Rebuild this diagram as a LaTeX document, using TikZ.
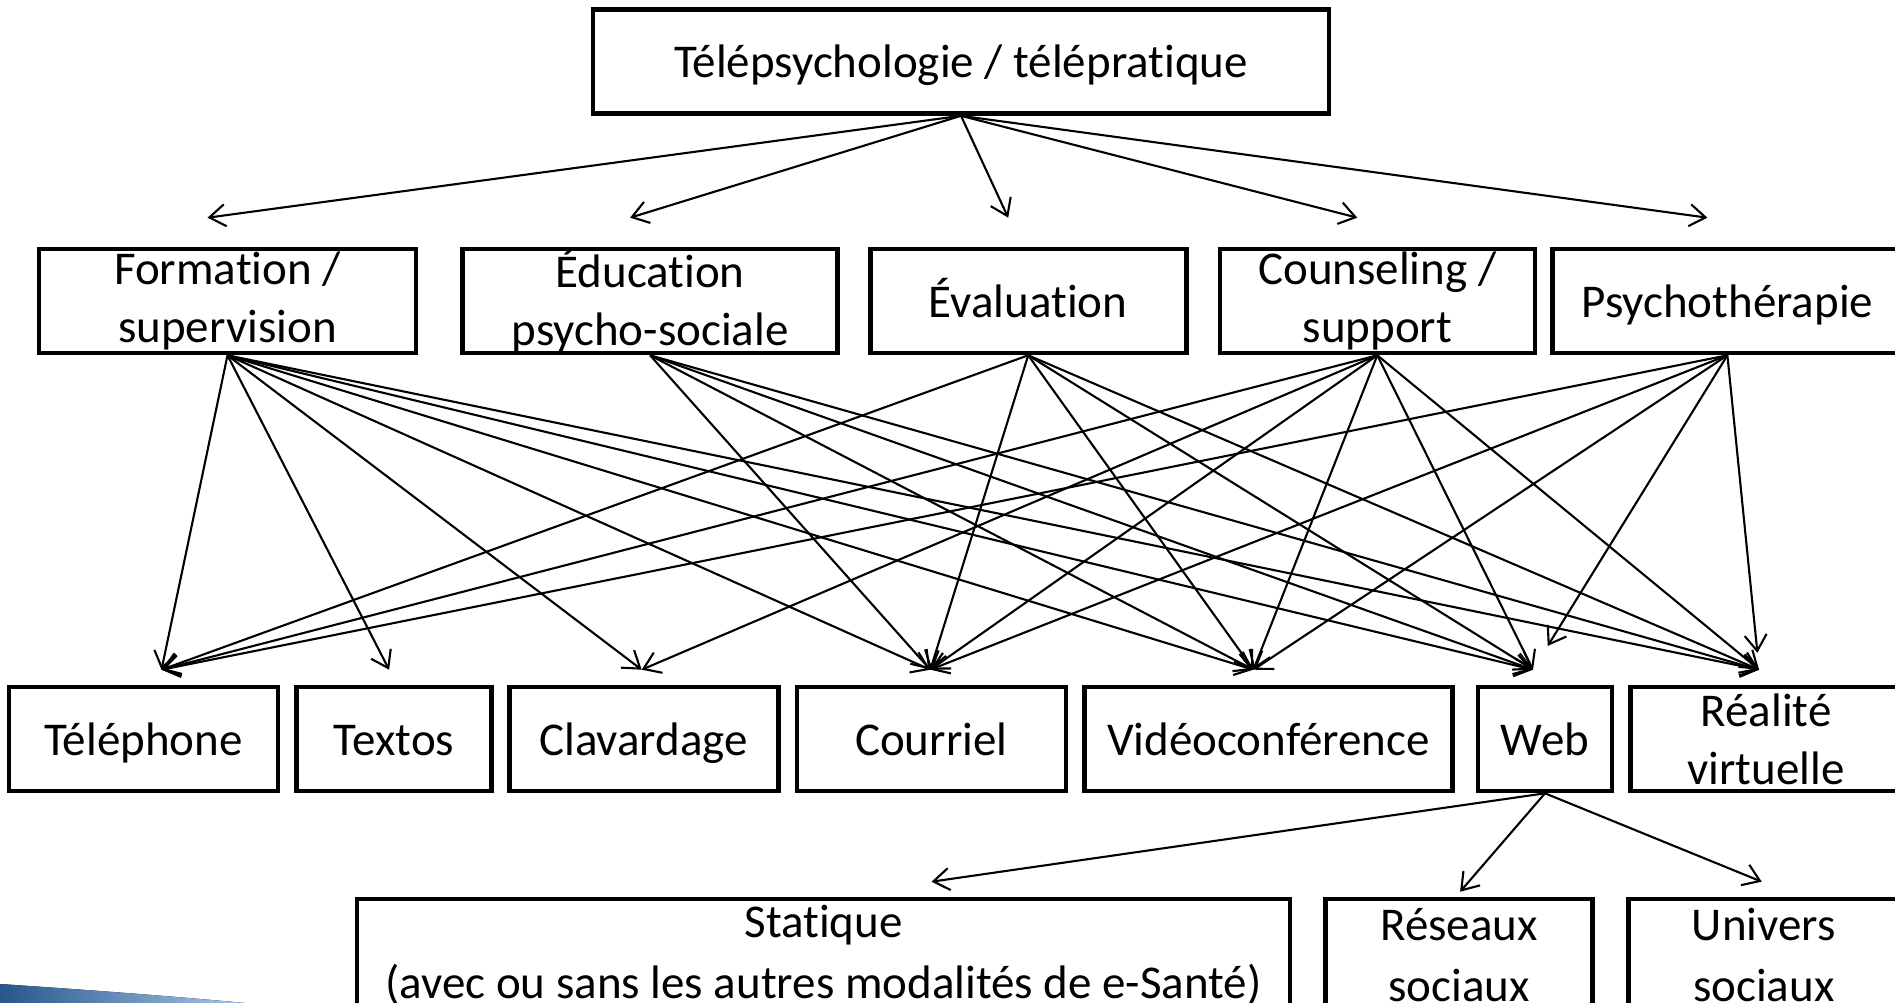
\documentclass[tikz,border=0pt]{standalone}
\usepackage{fontspec}
\setmainfont{Carlito}[Ligatures=NoCommon]
\usepackage{tikz}
\usepackage{xcolor}
\usetikzlibrary{positioning}
\usetikzlibrary{calc}
\usetikzlibrary{arrows.meta}
\definecolor{swooshdark}{RGB}{38,86,140}
\definecolor{swooshlight}{RGB}{170,200,230}

\begin{document}
\begin{tikzpicture}[x=1pt, y=-1pt, align=center, font=\fontsize{47}{58}\selectfont, sqbox/.style={rectangle,draw=black,line width=4.6pt,minimum height=104pt,inner xsep=2pt,inner ysep=-6pt}, onebox/.style={sqbox,text height=42pt,text depth=10pt}, lowbox/.style={sqbox,minimum height=112pt,font=\fontsize{47}{61}\selectfont}, link/.style={line width=2.1pt,-{Straight Barb[length=16pt,width=22pt]}}]
	\useasboundingbox (0,0) rectangle (1895,1003);
	\fill[left color=swooshdark,right color=swooshlight] (0,984) .. controls (90,990) and (170,996) .. (245,1003) -- (0,1003) -- cycle;

	\node[onebox,minimum width=736pt] (telepsy) at (961,61.5) {Télépsychologie / télépratique};

	\node[sqbox,minimum width=377pt] (formation) at (227.5,301) {Formation /\\supervision};
	\node[sqbox,minimum width=375pt] (education) [right = 42pt of formation] {Éducation\\psycho-sociale};
	\node[onebox,minimum width=316pt] (evaluation) [right = 28pt of education] {Évaluation};
	\node[sqbox,minimum width=315pt] (counseling) [right = 29pt of evaluation] {Counseling /\\support};
	\node[onebox,minimum width=350pt] (psychotherapie) [right = 13pt of counseling] {Psychothérapie};

	\node[onebox,minimum width=269pt] (telephone) at (143.5,739) {Téléphone};
	\node[onebox,minimum width=195pt] (textos) [right = 14pt of telephone] {Textos};
	\node[onebox,minimum width=269pt] (clavardage) [right = 13pt of textos] {Clavardage};
	\node[onebox,minimum width=269pt] (courriel) [right = 14pt of clavardage] {Courriel};
	\node[onebox,minimum width=368pt] (video) [right = 14pt of courriel] {Vidéoconférence};
	\node[onebox,minimum width=134pt] (web) [right = 21pt of video] {Web};
	\node[sqbox,minimum width=271pt] (realite) [right = 14pt of web] {Réalité\\virtuelle};

	\node[lowbox,minimum width=933pt] (statique) at (823.5,955) {Statique\\(avec ou sans les autres modalités de e-Santé)};
	\node[lowbox,minimum width=267pt] (reseaux) [right = 31pt of statique] {Réseaux\\sociaux};
	\node[lowbox,minimum width=271pt] (univers) [right = 31pt of reseaux] {Univers\\sociaux};

	\coordinate (formation-in) at ([xshift=-20pt,yshift=29pt]formation.north);
	\coordinate (education-in) at ([xshift=-20pt,yshift=29pt]education.north);
	\coordinate (evaluation-in) at ([xshift=-20pt,yshift=29pt]evaluation.north);
	\coordinate (counseling-in) at ([xshift=-20pt,yshift=29pt]counseling.north);
	\coordinate (psychotherapie-in) at ([xshift=-20pt,yshift=29pt]psychotherapie.north);
	\coordinate (telephone-in) at ([xshift=18pt,yshift=15pt]telephone.north);
	\coordinate (textos-in) at ([xshift=-5pt,yshift=15pt]textos.north);
	\coordinate (clavardage-in) at ([xshift=-2pt,yshift=15pt]clavardage.north);
	\coordinate (courriel-in) at ([xshift=-1pt,yshift=15pt]courriel.north);
	\coordinate (video-in) at ([xshift=-15pt,yshift=15pt]video.north);
	\coordinate (web-in) at ([xshift=-12pt,yshift=15pt]web.north);
	\coordinate (realite-in) at ([xshift=-7pt,yshift=15pt]realite.north);
	\coordinate (statique-in) at ([xshift=108pt,yshift=15pt]statique.north);
	\coordinate (reseaux-in) at ([xshift=1pt,yshift=5pt]reseaux.north);
	\coordinate (univers-in) at ([xshift=-2pt,yshift=15pt]univers.north);

	\draw[link] (telepsy.south) -- (formation-in);
	\draw[link] (telepsy.south) -- (education-in);
	\draw[link] (telepsy.south) -- (evaluation-in);
	\draw[link] (telepsy.south) -- (counseling-in);
	\draw[link] (telepsy.south) -- (psychotherapie-in);

	\draw[link] (formation.south) -- (telephone-in);
	\draw[link] (formation.south) -- (textos-in);
	\draw[link] (formation.south) -- (clavardage-in);
	\draw[link] (formation.south) -- (courriel-in);
	\draw[link] (formation.south) -- (video-in);
	\draw[link] (formation.south) -- (web-in);
	\draw[link] (formation.south) -- (realite-in);

	\draw[link] (education.south) -- (courriel-in);
	\draw[link] (education.south) -- (video-in);
	\draw[link] (education.south) -- (web-in);
	\draw[link] (education.south) -- (realite-in);

	\draw[link] (evaluation.south) -- (telephone-in);
	\draw[link] (evaluation.south) -- (courriel-in);
	\draw[link] (evaluation.south) -- (video-in);
	\draw[link] (evaluation.south) -- (web-in);
	\draw[link] (evaluation.south) -- (realite-in);

	\draw[link] (counseling.south) -- (telephone-in);
	\draw[link] (counseling.south) -- (clavardage-in);
	\draw[link] (counseling.south) -- (courriel-in);
	\draw[link] (counseling.south) -- (video-in);
	\draw[link] (counseling.south) -- (web-in);
	\draw[link] (counseling.south) -- (realite-in);

	\draw[link] (psychotherapie.south) -- (telephone-in);
	\draw[link] (psychotherapie.south) -- (courriel-in);
	\draw[link] (psychotherapie.south) -- (video-in);
	\draw[link,shorten >=28pt] (psychotherapie.south) -- (web-in);
	\draw[link,shorten >=17pt] (psychotherapie.south) -- (realite-in);

	\draw[link] (web.south) -- (statique-in);
	\draw[link] (web.south) -- (reseaux-in);
	\draw[link] (web.south) -- (univers-in);
\end{tikzpicture}
\end{document}
